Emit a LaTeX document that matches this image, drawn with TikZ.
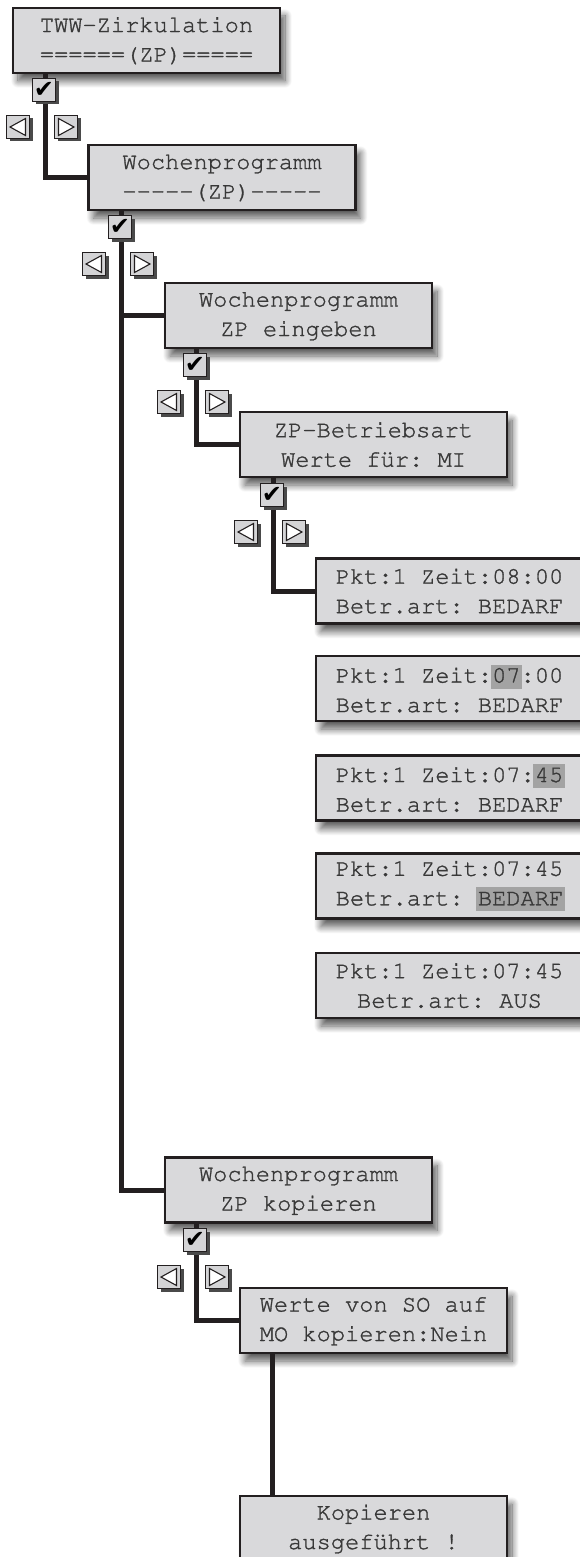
\documentclass[tikz,border=0pt]{standalone}
\usepackage[T1]{fontenc}
\usepackage{fontspec}
\newfontfamily\dejavu{DejaVu Sans}
\usetikzlibrary{shadows,shadows.blur,calc}
\definecolor{linecol}{HTML}{231F20}
\definecolor{boxfill}{HTML}{D9D9DB}
\definecolor{txtcol}{HTML}{383838}
\definecolor{hlgray}{HTML}{A3A3A3}
\definecolor{iconfill}{HTML}{D4D4D6}
\definecolor{icshadow}{HTML}{4A4A4A}
\newcommand\courierfont{\fontencoding{T1}\fontfamily{pcr}\fontseries{m}\fontshape{n}\fontsize{23.7}{29.5}\selectfont\frenchspacing}
\newcommand\thicktext[1]{\special{pdf:literal direct 2 Tr 0.3 w}#1\special{pdf:literal direct 0 Tr}}
\newlength\hlw
\newcommand\hlbox[1]{\settowidth\hlw{#1}\addtolength\hlw{3pt}\rlap{\hspace{-1.5pt}\color{hlgray}\rule[-6pt]{\hlw}{24pt}}#1}
\tikzset{
  box/.style={draw=linecol, line width=2.2pt, fill=boxfill, minimum width=267pt,
    minimum height=65pt, inner sep=0pt, align=center, text=txtcol,
    font=\courierfont,
    blur shadow={shadow xshift=5pt, shadow yshift=-8pt, shadow blur radius=7pt, shadow blur steps=12, shadow opacity=65}},
  conn/.style={draw=linecol, line width=5pt},
  icon/.style={draw=linecol, line width=0.9pt, fill=iconfill, minimum size=23pt, inner sep=0pt,
    general shadow={fill=icshadow, shadow xshift=3pt, shadow yshift=-3pt}},
  chk/.style={icon, font=\dejavu\fontsize{24}{24}\selectfont, text=black},
  la/.style={icon, path picture={\draw[line width=1.1pt, fill=white, line join=miter]
     ([xshift=-8pt]path picture bounding box.center) -- ([xshift=7.5pt,yshift=8.5pt]path picture bounding box.center)
     -- ([xshift=7.5pt,yshift=-8.5pt]path picture bounding box.center) -- cycle;}},
  ra/.style={icon, path picture={\draw[line width=1.1pt, fill=white, line join=miter]
     ([xshift=8pt]path picture bounding box.center) -- ([xshift=-7.5pt,yshift=8.5pt]path picture bounding box.center)
     -- ([xshift=-7.5pt,yshift=-8.5pt]path picture bounding box.center) -- cycle;}},
}
\begin{document}
\begin{tikzpicture}[x=1pt,y=-1pt]
\useasboundingbox (0,0) rectangle (579,1557);
% boxes
\node[box] (b1) at (146.5,40.5) {\thicktext{TWW-Zirkulation\\======(ZP)=====}};
\node[box] (b2) at (222,177.5) {\thicktext{Wochenprogramm\\-{}-{}-{}-{}-(ZP)-{}-{}-{}-{}-}};
\node[box] (b3) at (298.5,315.5) {\thicktext{Wochenprogramm\\ZP eingeben}};
\node[box] (b4) at (373.5,444.5) {\thicktext{ZP-Betriebsart\\Werte für: MI}};
\node[box] (b5) at (449.5,591) {\thicktext{Pkt:1 Zeit:08:00\\Betr.art: BEDARF}};
\node[box] (b6) at (449.5,688.5) {\thicktext{Pkt:1 Zeit:\hlbox{07}:00\\Betr.art: BEDARF}};
\node[box] (b7) at (449.5,788) {\thicktext{Pkt:1 Zeit:07:\hlbox{45}\\Betr.art: BEDARF}};
\node[box] (b8) at (449.5,886) {\thicktext{Pkt:1 Zeit:07:45\\Betr.art: \hlbox{BEDARF}}};
\node[box] (b9) at (449.5,985.5) {\thicktext{Pkt:1 Zeit:07:45\\Betr.art: AUS}};
\node[box] (b10) at (298.5,1190) {\thicktext{Wochenprogramm\\ZP kopieren}};
\node[box] (b11) at (373.5,1320.5) {\thicktext{Werte von SO auf\\MO kopieren:Nein}};
\node[box] (b12) at (373.5,1528.5) {\thicktext{Kopieren\\ausgeführt !}};
% line positions
\coordinate (v1) at (45,0);
\coordinate (v2) at (121,0);
\coordinate (v3) at (196,0);
\coordinate (v4) at (273,0);
\coordinate (v5) at (272,0);
% connectors
\draw[conn] (b1.south -| v1) |- (b2.west);
\draw[conn] (b2.south -| v2) |- (b10.west);
\draw[conn] (b3.west -| v2) -- (b3.west);
\draw[conn] (b3.south -| v3) |- (b4.west);
\draw[conn] (b4.south -| v4) |- (b5.west);
\draw[conn] (b10.south -| v3) |- (b11.west);
\draw[conn] (b11.south -| v5) -- (b12.north -| v5);
% icons
\node[chk] (c1) at (44,90) {✔};
\node[la] (l1) at (18,127) {};
\node[ra] (r1) at (66,127) {};
\node[chk] (c2) at (120,227) {✔};
\node[la] (l2) at (94,264) {};
\node[ra] (r2) at (142,264) {};
\node[chk] (c3) at (195,365) {✔};
\node[la] (l3) at (169,402) {};
\node[ra] (r3) at (217,402) {};
\node[chk] (c4) at (272,495) {✔};
\node[la] (l4) at (246,532) {};
\node[ra] (r4) at (294,532) {};
\node[chk] (c10) at (195,1240) {✔};
\node[la] (l10) at (169,1277) {};
\node[ra] (r10) at (217,1277) {};
\end{tikzpicture}
\end{document}
